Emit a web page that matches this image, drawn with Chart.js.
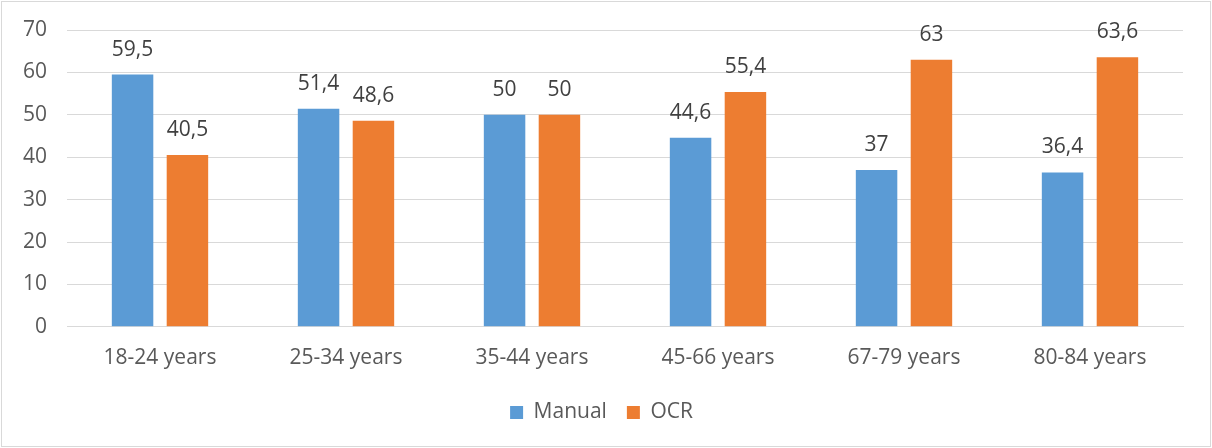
<!DOCTYPE html>
<html>
<head>
<meta charset="utf-8">
<script src="https://cdn.jsdelivr.net/npm/chart.js@4/dist/chart.umd.min.js"></script>
<style>
  html, body { margin: 0; padding: 0; background: #fff; }
  #wrap { width: 1212px; height: 448px; position: relative; }
</style>
</head>
<body>
<div id="wrap"><canvas id="c" width="1212" height="448"></canvas></div>
<script>
const categories = ["18-24 years", "25-34 years", "35-44 years", "45-66 years", "67-79 years", "80-84 years"];
const manualValues = [59.5, 51.4, 50, 44.6, 37, 36.4];
const ocrValues = [40.5, 48.6, 50, 55.4, 63, 63.6];
const yTicks = [0, 10, 20, 30, 40, 50, 60, 70];

const FONT = "'Open Sans', Lato, sans-serif";
const FS = 21;

// Value labels above each bar, decimal comma
const barLabels = {
  id: 'barLabels',
  afterDatasetsDraw(chart) {
    const ctx = chart.ctx;
    ctx.save();
    ctx.font = FS + "px " + FONT;
    ctx.fillStyle = "#404040";
    ctx.textAlign = "center";
    ctx.textBaseline = "middle";
    chart.data.datasets.forEach((ds, i) => {
      chart.getDatasetMeta(i).data.forEach((bar, j) => {
        const txt = String(ds.data[j]).replace('.', ',');
        ctx.fillText(txt, bar.x, bar.y - 25);
      });
    });
    ctx.restore();
  }
};

// Outer frame around the chart
const frame = {
  id: 'frame',
  beforeDraw(chart) {
    const ctx = chart.ctx;
    ctx.save();
    ctx.fillStyle = "#fff";
    ctx.fillRect(0, 0, chart.width, chart.height);
    ctx.strokeStyle = "#d9d9d9";
    ctx.lineWidth = 1;
    ctx.strokeRect(1.5, 1.5, chart.width - 3, chart.height - 3);
    ctx.restore();
  }
};

new Chart(document.getElementById('c'), {
  type: 'bar',
  data: {
    labels: categories,
    datasets: [
      { label: 'Manual', data: manualValues, backgroundColor: '#5b9bd5',
        categoryPercentage: 0.59, barPercentage: 0.756 },
      { label: 'OCR', data: ocrValues, backgroundColor: '#ed7d31',
        categoryPercentage: 0.59, barPercentage: 0.756 }
    ]
  },
  options: {
    responsive: false,
    animation: false,
    devicePixelRatio: 1,
    layout: { padding: { left: 20, right: 29, top: 30, bottom: 15 } },
    plugins: {
      legend: {
        position: 'bottom',
        labels: {
          font: { family: FONT, size: FS },
          color: '#595959',
          boxWidth: 13, boxHeight: 13,
          padding: 20
        }
      },
      tooltip: { enabled: false }
    },
    scales: {
      x: {
        grid: { display: false },
        border: { display: true, color: '#d9d9d9', width: 1 },
        ticks: { font: { family: FONT, size: FS }, color: '#595959', padding: 11 }
      },
      y: {
        min: 0, max: 70,
        afterBuildTicks(axis) { axis.ticks = yTicks.map(v => ({ value: v })); },
        afterFit(axis) { axis.width = 47; axis.paddingTop = 0; axis.paddingBottom = 0; },
        grid: { color: '#d9d9d9', lineWidth: 1, drawTicks: false },
        border: { display: false },
        ticks: { font: { family: FONT, size: FS }, color: '#595959', padding: 20 }
      }
    }
  },
  plugins: [frame, barLabels]
});
</script>
</body>
</html>
